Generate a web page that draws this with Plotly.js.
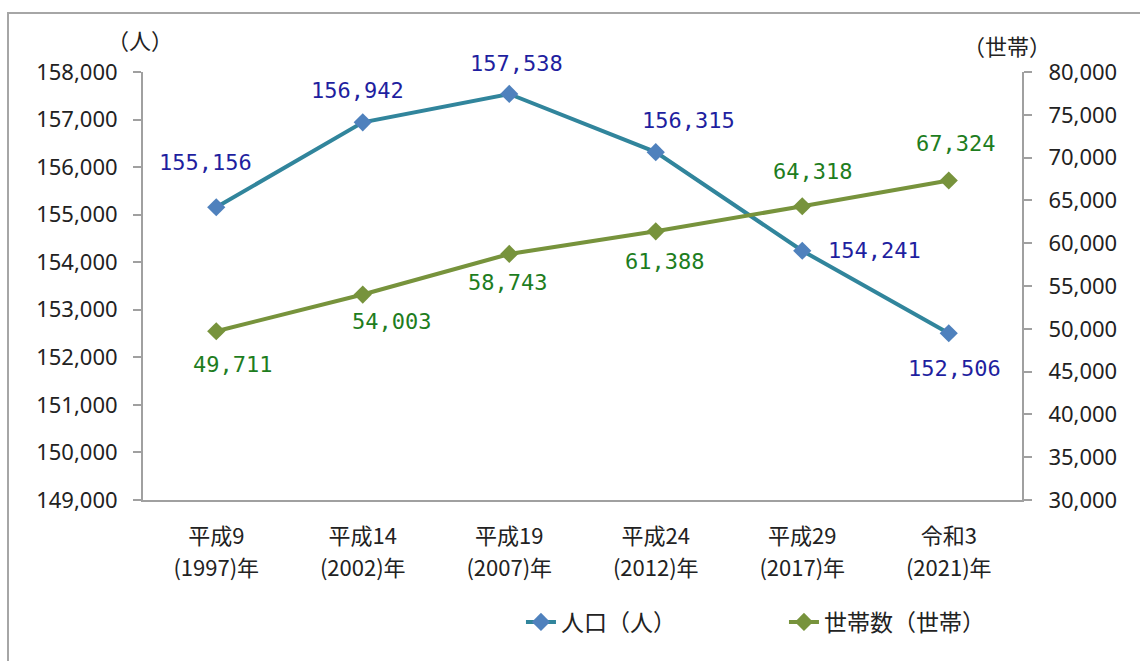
<!DOCTYPE html>
<html>
<head>
<meta charset="utf-8">
<script src="https://cdn.plot.ly/plotly-3.0.1.min.js"></script>
<style>
  html, body { margin: 0; padding: 0; background: #fff; }
  #wrap { position: relative; width: 1140px; height: 661px; overflow: hidden; }
  #chart { width: 1140px; height: 661px; }
  #frame { position: absolute; left: 7px; top: 12px; width: 1200px; height: 700px;
           border-left: 2px solid #a6a6a6; border-top: 2px solid #a6a6a6; pointer-events: none; }
</style>
</head>
<body>
<div id="wrap">
  <div id="chart"></div>
  <div id="frame"></div>
</div>
<script>
// ---- data ----
const categories = ["平成9", "平成14", "平成19", "平成24", "平成29", "令和3"];
const yearLabels = ["(1997)年", "(2002)年", "(2007)年", "(2012)年", "(2017)年", "(2021)年"];
const population = [155156, 156942, 157538, 156315, 154241, 152506];
const households = [49711, 54003, 58743, 61388, 64318, 67324];
const popName = "人口（人）";
const hhName = "世帯数（世帯）";
const leftUnit = "（人）";
const rightUnit = "（世帯）";

// ---- label placement (pixel offsets from each point) ----
const popShift = [[-11, 45], [-5, 32], [7, 30], [33, 32], [72, 0], [6, -35]];
const hhShift = [[16, -33], [29, -27], [-2, -29], [9, -30], [10, 35], [7, 37]];

const fmt = v => v.toLocaleString("en-US");
const JP = "'Noto Sans CJK JP', 'Noto Sans', sans-serif";
const NUM = "'DejaVu Sans Mono', monospace";
const popColor = "#1f1fa0";
const hhColor = "#1e7d1e";

const traces = [
  {
    x: categories, y: population, name: popName, type: "scatter", mode: "lines+markers",
    xaxis: "x", yaxis: "y",
    line: { color: "#31859c", width: 4 },
    marker: { symbol: "diamond", size: 14, color: "#4f81bd" },
    hoverinfo: "skip"
  },
  {
    x: categories, y: households, name: hhName, type: "scatter", mode: "lines+markers",
    xaxis: "x2", yaxis: "y2",
    line: { color: "#77933c", width: 4 },
    marker: { symbol: "diamond", size: 14, color: "#77933c" },
    hoverinfo: "skip"
  }
];

const annotations = [];
population.forEach((v, i) => annotations.push({
  x: categories[i], y: v, xref: "x", yref: "y", text: fmt(v), showarrow: false,
  xshift: popShift[i][0], yshift: popShift[i][1],
  font: { family: NUM, size: 22, color: popColor }
}));
households.forEach((v, i) => annotations.push({
  x: categories[i], y: v, xref: "x2", yref: "y2", text: fmt(v), showarrow: false,
  xshift: hhShift[i][0], yshift: hhShift[i][1],
  font: { family: NUM, size: 22, color: hhColor }
}));
annotations.push({
  text: leftUnit, xref: "paper", yref: "paper", x: -0.003, y: 1.078, xanchor: "center", yanchor: "middle",
  showarrow: false, font: { family: JP, size: 22, color: "#222" }
});
annotations.push({
  text: rightUnit, xref: "paper", yref: "paper", x: 0.983, y: 1.063, xanchor: "center", yanchor: "middle",
  showarrow: false, font: { family: JP, size: 22, color: "#222" }
});

const axisLine = { showline: true, linecolor: "#a0a0a0", linewidth: 2, zeroline: false, showgrid: false };

const layout = {
  width: 1140, height: 661,
  margin: { l: 143, r: 118, t: 72, b: 161 },
  paper_bgcolor: "#ffffff", plot_bgcolor: "#ffffff",
  showlegend: true,
  legend: {
    orientation: "h", x: 0.43, xanchor: "left", y: -0.285, yanchor: "middle",
    font: { family: JP, size: 23, color: "#222" }, entrywidth: 218, entrywidthmode: "pixels",
    itemclick: false
  },
  xaxis: Object.assign({}, axisLine, {
    type: "category", range: [-0.5, 5.5], ticks: "",
    tickfont: { family: JP, size: 22, color: "#222" }, ticklabelstandoff: 16
  }),
  xaxis2: Object.assign({}, axisLine, {
    type: "category", overlaying: "x", matches: "x", anchor: "y", side: "bottom",
    range: [-0.5, 5.5], ticks: "", tickmode: "array", tickvals: categories, ticktext: yearLabels,
    tickfont: { family: JP, size: 22, color: "#222" }, ticklabelstandoff: 48
  }),
  yaxis: Object.assign({}, axisLine, {
    range: [149000, 158000], dtick: 1000, tick0: 149000, ticks: "outside", ticklen: 8, tickwidth: 2,
    tickcolor: "#a0a0a0", tickformat: ",d",
    tickfont: { family: "'Noto Sans', sans-serif", size: 22, color: "#222" }, ticklabelstandoff: 11
  }),
  yaxis2: Object.assign({}, axisLine, {
    overlaying: "y", side: "right", anchor: "x",
    range: [30000, 80000], dtick: 5000, tick0: 30000, ticks: "outside", ticklen: 8, tickwidth: 2,
    tickcolor: "#a0a0a0", tickformat: ",d",
    tickfont: { family: "'Noto Sans', sans-serif", size: 22, color: "#222" }, ticklabelstandoff: 12
  }),
  annotations: annotations
};

Plotly.newPlot("chart", traces, layout, { displayModeBar: false, staticPlot: true });
</script>
</body>
</html>
